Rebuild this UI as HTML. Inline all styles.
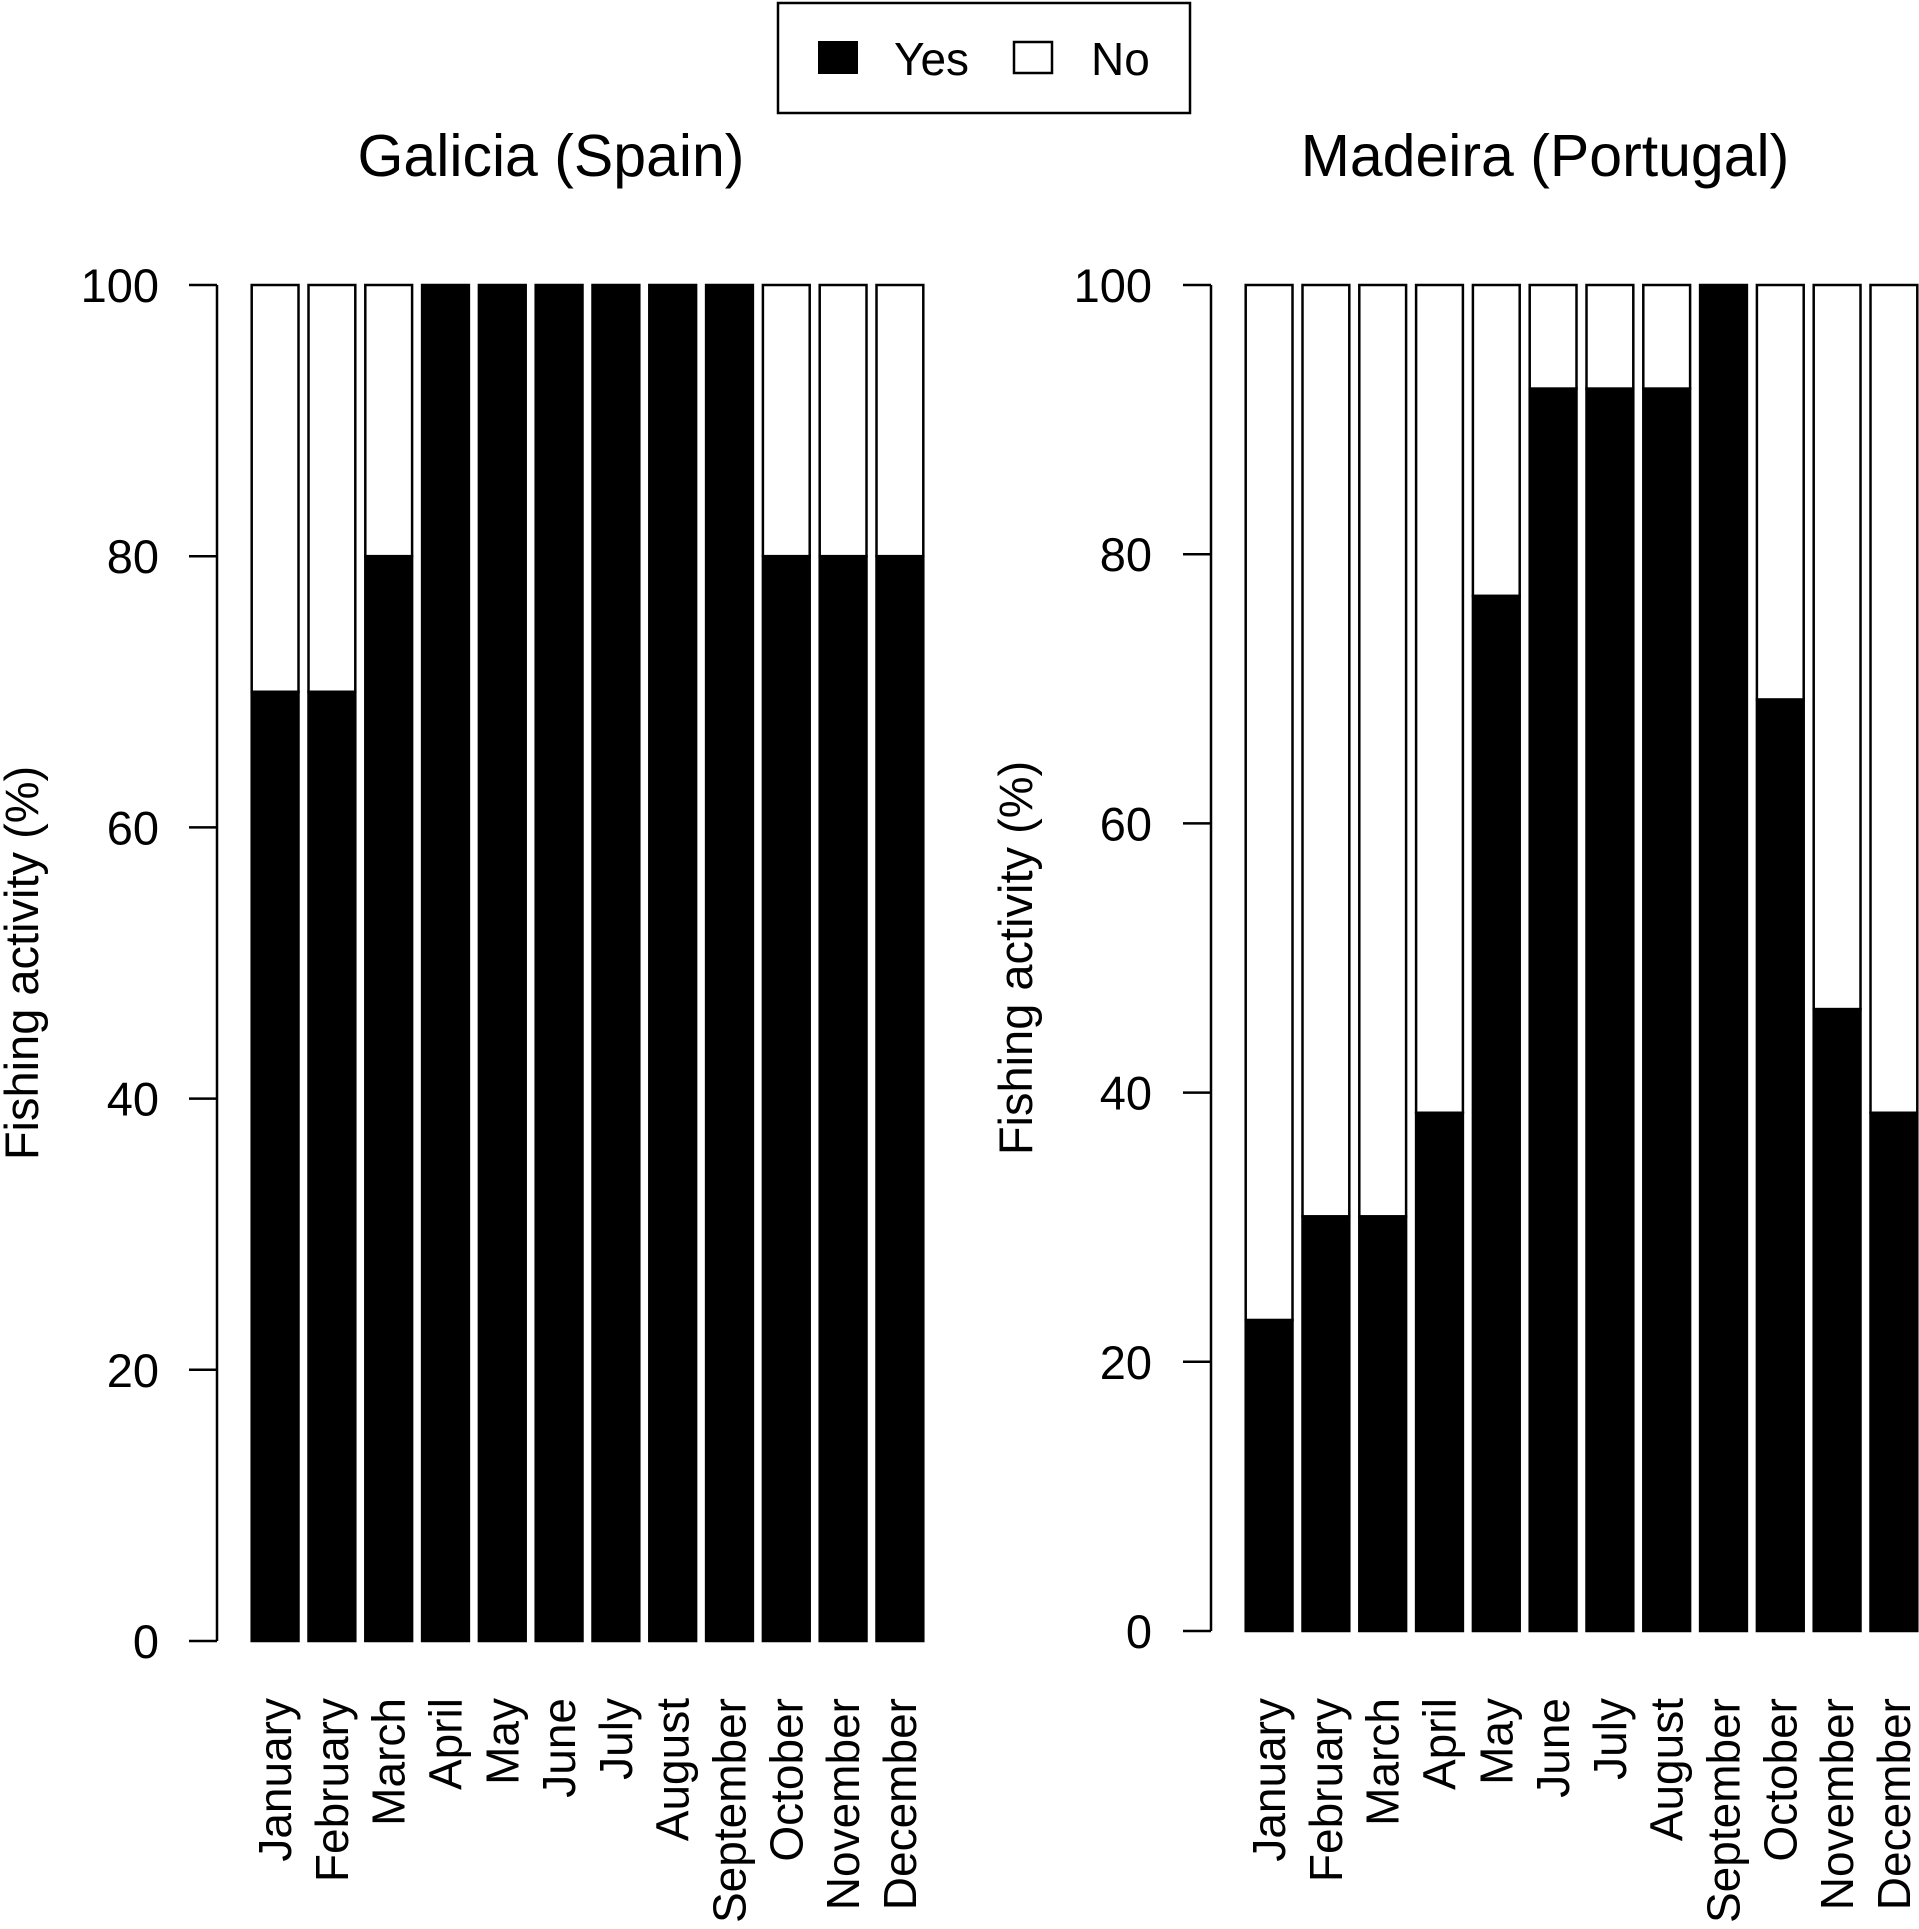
<!DOCTYPE html>
<html><head><meta charset="utf-8"><style>
html,body{margin:0;padding:0;background:#fff;}
svg{display:block;font-family:"Liberation Sans",Arial,sans-serif;}
</style></head><body>
<svg id="chart" width="1919" height="1929" viewBox="0 0 1919 1929" xmlns="http://www.w3.org/2000/svg">
<g>
<rect x="778" y="3" width="412" height="110" fill="#fff" stroke="#000" stroke-width="2.5"/>
<rect x="819" y="42" width="38" height="31" fill="#000" stroke="#000" stroke-width="2"/>
<text x="894" y="75" font-size="46">Yes</text>
<rect x="1014" y="42" width="38" height="31" fill="#fff" stroke="#000" stroke-width="2.5"/>
<text x="1091" y="75" font-size="46">No</text>
</g>
</svg>
<script>
const months = ["January","February","March","April","May","June","July","August","September","October","November","December"];
const galiciaYes = [70,70,80,100,100,100,100,100,100,80,80,80];
const madeiraYes = [23.1,30.8,30.8,38.5,76.9,92.3,92.3,92.3,100,69.2,46.2,38.5];
const yTicks = [0,20,40,60,80,100];
const titles = ["Galicia (Spain)","Madeira (Portugal)"];

const NS = "http://www.w3.org/2000/svg";
const svg = document.getElementById('chart');
function mk(tag, attrs, parent, text){
  const e = document.createElementNS(NS, tag);
  for (const k in attrs) e.setAttribute(k, attrs[k]);
  if (text !== undefined) e.textContent = text;
  parent.appendChild(e);
  return e;
}
const panels = [
  {key:'galicia', data:galiciaYes, title:titles[0], titleX:551, axisX:217, labelX:159, y0:1641, y100:285, barX0:251.7, yTitleX:38},
  {key:'madeira', data:madeiraYes, title:titles[1], titleX:1545, axisX:1211, labelX:1152, y0:1631, y100:285, barX0:1245.7, yTitleX:1032}
];
const pitch = 56.8, bw = 46.8;
panels.forEach(p => {
  const g = mk('g', {}, svg);
  
  
  const yScale = v => p.y0 - (v/100)*(p.y0 - p.y100);
  const t = mk('text', {x:p.titleX, y:176, 'font-size':59, 'text-anchor':'middle'}, g, p.title);
  
  
  const ax = mk('line', {x1:p.axisX, x2:p.axisX, y1:yScale(0), y2:yScale(100), stroke:'#000', 'stroke-width':2.5}, g);
  
  
  yTicks.forEach(v => {
    const tk = mk('line', {x1:p.axisX-28, x2:p.axisX, y1:yScale(v), y2:yScale(v), stroke:'#000', 'stroke-width':2.5}, g);
    
    
    const tl = mk('text', {x:p.labelX, y:yScale(v)+17, 'font-size':47, 'text-anchor':'end'}, g, String(v));
    
    
  });
  const yt = mk('text', {x:0, y:0, 'font-size':47, 'text-anchor':'middle', transform:`translate(${p.yTitleX},${(p.y0+p.y100)/2}) rotate(-90)`}, g, 'Fishing activity (%)');
  
  
  p.data.forEach((v, i) => {
    const x = p.barX0 + i*pitch;
    const no = mk('rect', {x:x, y:yScale(100), width:bw, height:yScale(v)-yScale(100), fill:'#fff', stroke:'#000', 'stroke-width':2.5}, g);
    
    
    const yes = mk('rect', {x:x, y:yScale(v), width:bw, height:yScale(0)-yScale(v), fill:'#000', stroke:'#000', 'stroke-width':2.5}, g);
    
    
    const cx = x + bw/2 + 16;
    const ml = mk('text', {x:0, y:0, 'font-size':46, 'text-anchor':'end', transform:`translate(${cx},1698) rotate(-90)`}, g, months[i]);
    
    
  });
});
</script>
</body></html>
